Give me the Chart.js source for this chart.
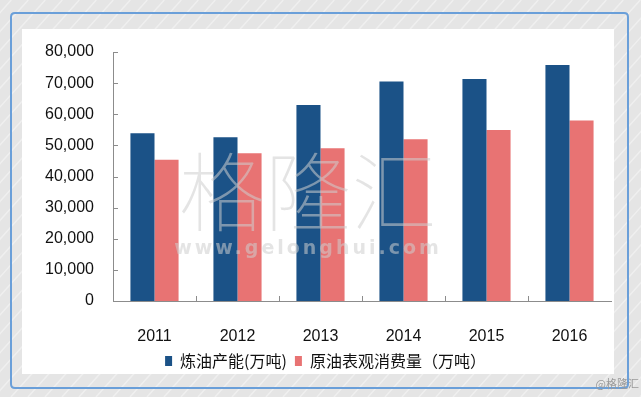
<!DOCTYPE html>
<html>
<head>
<meta charset="utf-8">
<script src="https://cdn.jsdelivr.net/npm/chart.js@4/dist/chart.umd.min.js"></script>
<style>
html,body{margin:0;padding:0;background:#e8e8e8;}
#wrap{position:relative;width:641px;height:397px;}
canvas{display:block;}
</style>
</head>
<body>
<div id="wrap"><canvas id="c" width="641" height="397"></canvas></div>
<script>
const categories = ['2011', '2012', '2013', '2014', '2015', '2016'];
const refiningCapacity = [53900, 52600, 63000, 70500, 71300, 75800];
const crudeConsumption = [45400, 47500, 49100, 52000, 54900, 58000];
const seriesNames = ['炼油产能(万吨)', '原油表观消费量（万吨）'];
const yTicks = [0, 10000, 20000, 30000, 40000, 50000, 60000, 70000, 80000];

const bgPlugin = {
  id: 'bg',
  afterLayout(chart) {
    if (chart.legend) { chart.legend.left += 20; chart.legend.right += 20; }
  },
  beforeDraw(chart) {
    const ctx = chart.ctx;
    const W = chart.width, H = chart.height;
    ctx.save();
    ctx.fillStyle = '#e5e5e5';
    ctx.fillRect(0, 0, W, H);
    ctx.strokeStyle = 'rgba(255,255,255,0.4)';
    ctx.lineWidth = 1.5;
    for (let x = -H; x < W + H; x += 17) {
      ctx.beginPath();
      ctx.moveTo(x, H);
      ctx.lineTo(x + H * 0.9, 0);
      ctx.stroke();
    }
    // blue rounded border
    ctx.strokeStyle = '#6a9fd9';
    ctx.lineWidth = 2;
    const r = 4, x0 = 11, y0 = 13, x1 = 628, y1 = 388;
    ctx.beginPath();
    ctx.moveTo(x0 + r, y0);
    ctx.lineTo(x1 - r, y0); ctx.quadraticCurveTo(x1, y0, x1, y0 + r);
    ctx.lineTo(x1, y1 - r); ctx.quadraticCurveTo(x1, y1, x1 - r, y1);
    ctx.lineTo(x0 + r, y1); ctx.quadraticCurveTo(x0, y1, x0, y1 - r);
    ctx.lineTo(x0, y0 + r); ctx.quadraticCurveTo(x0, y0, x0 + r, y0);
    ctx.stroke();
    // white panel
    ctx.fillStyle = '#ffffff';
    ctx.fillRect(22, 29, 592, 345);
    // corner watermark
    ctx.fillStyle = '#9a9a9a';
    ctx.font = '11px "Noto Sans CJK SC", sans-serif';
    ctx.textAlign = 'right';
    ctx.textBaseline = 'middle';
    ctx.fillText('@格隆汇', 639, 384);
    ctx.restore();
  },
  afterDatasetsDraw(chart) {
    const ctx = chart.ctx;
    const xs = chart.scales.x, ys = chart.scales.y;
    ctx.save();
    ctx.strokeStyle = '#8c8c8c';
    ctx.lineWidth = 1;
    // y ticks pointing inward
    ys.ticks.forEach((t, i) => {
      const y = Math.round(ys.getPixelForTick(i)) + 0.5;
      ctx.beginPath();
      ctx.moveTo(xs.left, y);
      ctx.lineTo(xs.left + 5, y);
      ctx.stroke();
    });
    // x ticks at category boundaries pointing up
    const n = categories.length;
    const step = (xs.right - xs.left) / n;
    for (let i = 1; i < n; i++) {
      const x = Math.round(xs.left + step * i) + 0.5;
      ctx.beginPath();
      ctx.moveTo(x, ys.bottom);
      ctx.lineTo(x, ys.bottom - 5);
      ctx.stroke();
    }
    // big watermark
    ctx.fillStyle = 'rgba(205,205,205,0.55)';
    ctx.textAlign = 'center';
    ctx.textBaseline = 'middle';
    ctx.font = '100 86px "Noto Sans CJK SC", sans-serif';
    ctx.fillText('格隆汇', 308, 192);
    ctx.font = 'bold 19px "DejaVu Sans", sans-serif';
    if ('letterSpacing' in ctx) ctx.letterSpacing = '3px';
    ctx.fillText('www.gelonghui.com', 308, 249);
    ctx.restore();
  }
};

new Chart(document.getElementById('c'), {
  type: 'bar',
  data: {
    labels: categories,
    datasets: [
      { label: seriesNames[0], data: refiningCapacity, backgroundColor: '#1b5287', borderWidth: 0 },
      { label: seriesNames[1], data: crudeConsumption, backgroundColor: '#e87373', borderWidth: 0 }
    ]
  },
  options: {
    responsive: false,
    animation: false,
    devicePixelRatio: 1,
    layout: { padding: { left: 0, right: 30, top: 52, bottom: 18 } },
    datasets: { bar: { categoryPercentage: 0.58, barPercentage: 1.0 } },
    scales: {
      x: {
        grid: { display: false, drawTicks: false },
        border: { display: true, color: '#8c8c8c', width: 1 },
        ticks: { color: '#111', font: { family: '"Liberation Sans", Arial, sans-serif', size: 16 }, padding: 26 },
        afterFit(s) { s.height = 44; }
      },
      y: {
        min: 0, max: 80000,
        afterBuildTicks(s) { s.ticks = yTicks.map(v => ({ value: v })); },
        grid: { display: false, drawTicks: false },
        border: { display: true, color: '#8c8c8c', width: 1 },
        ticks: {
          color: '#111',
          font: { family: '"Liberation Sans", Arial, sans-serif', size: 16 },
          padding: 19,
          callback: v => v.toLocaleString('en-US')
        },
        afterFit(s) { s.width = 113; }
      }
    },
    plugins: {
      legend: {
        position: 'bottom',
        labels: {
          color: '#111',
          font: { family: '"Noto Sans CJK SC", sans-serif', size: 16 },
          boxWidth: 7, boxHeight: 10, padding: 8
        }
      },
      tooltip: { enabled: false }
    }
  },
  plugins: [bgPlugin]
});
</script>
</body>
</html>
